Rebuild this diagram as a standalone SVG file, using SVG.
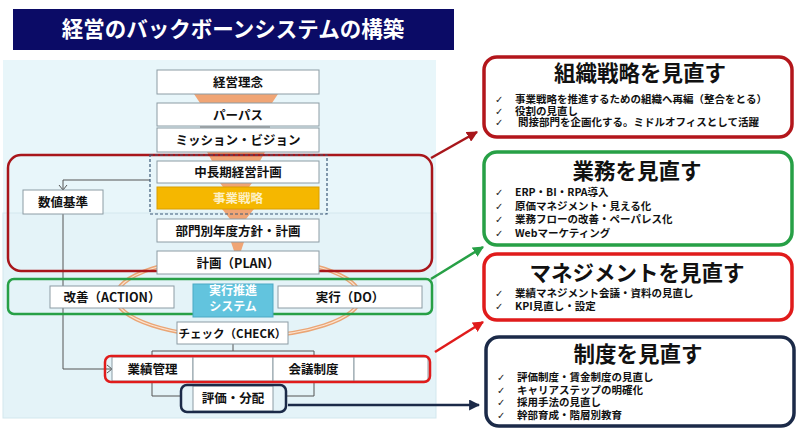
<svg xmlns="http://www.w3.org/2000/svg" width="801" height="432" viewBox="0 0 801 432">
<defs>
<style>
.t{font-family:"Noto Sans CJK JP","Noto Sans",sans-serif;font-weight:bold;}
.bx{fill:#fff;stroke:#8c9ca4;stroke-width:1;}
.lbl{font-size:12.5px;fill:#111;text-anchor:middle;}
.head{font-size:21.5px;fill:#111;text-anchor:middle;}
.item{font-size:10.5px;fill:#111;}
.ck{font-family:"DejaVu Sans",sans-serif;font-size:10px;fill:#222;}
.con{fill:#f0a575;}
.ln{fill:none;stroke:#555;stroke-width:1;}
.rb{fill:#fff;stroke-width:3.5;}
</style>
<marker id="ahDR" viewBox="0 0 10 10" refX="9" refY="5" markerWidth="11" markerHeight="11" markerUnits="userSpaceOnUse" orient="auto"><path d="M0,0 L10,5 L0,10 z" fill="#a8161b"/></marker>
<marker id="ahG" viewBox="0 0 10 10" refX="9" refY="5" markerWidth="11" markerHeight="11" markerUnits="userSpaceOnUse" orient="auto"><path d="M0,0 L10,5 L0,10 z" fill="#27a046"/></marker>
<marker id="ahR" viewBox="0 0 10 10" refX="9" refY="5" markerWidth="11" markerHeight="11" markerUnits="userSpaceOnUse" orient="auto"><path d="M0,0 L10,5 L0,10 z" fill="#e01b1b"/></marker>
<marker id="ahN" viewBox="0 0 10 10" refX="9" refY="5" markerWidth="11" markerHeight="11" markerUnits="userSpaceOnUse" orient="auto"><path d="M0,0 L10,5 L0,10 z" fill="#1b2a48"/></marker>
</defs>

<rect width="801" height="432" fill="#fff"/>

<g id="title">
<rect x="13" y="9" width="441" height="41" fill="#0b0b66"/>
<text class="t" x="233" y="37" font-size="21.5" fill="#fff" text-anchor="middle">経営のバックボーンシステムの構築</text>
</g>

<g id="panel">
<rect x="3" y="60" width="433" height="154" fill="#e8f6fa"/>
<rect x="3" y="213" width="433" height="205" fill="#e4f3f8" stroke="#d3e7ee" stroke-width="1"/>
</g>

<g id="cycle">
<ellipse cx="238" cy="297" rx="122" ry="40" fill="none" stroke="#eaa575" stroke-width="4"/>
<ellipse cx="238" cy="297" rx="122" ry="40" fill="none" stroke="#fbe4d2" stroke-width="1.2"/>
</g>

<g id="connectors">
<polygon class="con" points="194,94 278,94 272,103 200,103"/>
<rect x="200" y="126" width="70" height="2.5" fill="#a8a8a8"/>
<polygon class="con" points="207,152 265,152 260,161 212,161"/>
<polygon class="con" points="220,183 252,183 249,187 223,187"/>
<polygon class="con" points="222,209 254,209 246,219 230,219"/>
<polygon class="con" points="231,242 244,242 241,251 234,251"/>
<path class="ln" d="M150,180 H63 V190"/>
<path class="ln" d="M59,185 L63,190 L67,185"/>
<path class="ln" d="M63,214 V369 H112"/>
<path class="ln" d="M107,365 L112,369 L107,373"/>
<path class="ln" d="M233,344 V351 M152,396 V351 H314 V396 M152,396 H181 M314,396 H286"/>
<line x1="431" y1="158" x2="477" y2="132" stroke="#a8161b" stroke-width="2.5" marker-end="url(#ahDR)"/>
<line x1="431" y1="279" x2="483" y2="247" stroke="#27a046" stroke-width="2.5" marker-end="url(#ahG)"/>
<line x1="435" y1="352" x2="483" y2="322" stroke="#e01b1b" stroke-width="2.5" marker-end="url(#ahR)"/>
<line x1="288" y1="405" x2="479" y2="405" stroke="#1b2a48" stroke-width="2.5" marker-end="url(#ahN)"/>
</g>

<g id="group-strategy">
<rect x="8" y="155" width="424" height="116" rx="13" fill="none" stroke="#a8161b" stroke-width="2.5"/>
</g>
<g id="group-cycle">
<rect x="8" y="279" width="424" height="35" rx="6" fill="none" stroke="#27a046" stroke-width="2.5"/>
</g>

<g id="n-rinen"><rect class="bx" x="157" y="70" width="162" height="24"/><text class="t lbl" x="238" y="87">経営理念</text></g>
<g id="n-purpose"><rect class="bx" x="157" y="103" width="162" height="23"/><text class="t lbl" x="238" y="119.5">パーパス</text></g>
<g id="n-mission"><rect class="bx" x="157" y="128" width="162" height="24"/><text class="t lbl" x="238" y="145">ミッション・ビジョン</text></g>
<g id="n-plan-mid">
<rect x="150" y="155" width="177" height="59" fill="none" stroke="#3c5a78" stroke-width="1.2" stroke-dasharray="3,2"/>
<rect class="bx" x="157" y="161" width="162" height="22"/><text class="t lbl" x="238" y="177">中長期経営計画</text>
</g>
<g id="n-jigyo"><rect x="157" y="187" width="162" height="22" fill="#f5b700" stroke="#d99e00" stroke-width="1"/><text class="t lbl" x="238" y="203" style="fill:#fdf0c4">事業戦略</text></g>
<g id="n-bumon"><rect class="bx" x="157" y="219" width="162" height="23"/><text class="t lbl" x="238" y="235.5">部門別年度方針・計画</text></g>
<g id="n-plan"><rect class="bx" x="157" y="251" width="162" height="23"/><text class="t lbl" x="238" y="267.5">計画（PLAN）</text></g>
<g id="n-suchi"><rect class="bx" x="23" y="190" width="80" height="24"/><text class="t lbl" x="63" y="206.5">数値基準</text></g>
<g id="n-action"><rect class="bx" x="50" y="286" width="124" height="22"/><text class="t lbl" x="112" y="302">改善（ACTION）</text></g>
<g id="n-system"><rect x="193" y="284" width="80" height="33" fill="#62c4de" stroke="#4aa9c4" stroke-width="1"/><text class="t" x="233" y="295" font-size="12" text-anchor="middle" fill="#fff">実行推進</text><text class="t" x="233" y="310.5" font-size="12" text-anchor="middle" fill="#fff">システム</text></g>
<g id="n-do"><rect class="bx" x="278" y="286" width="144" height="22"/><text class="t lbl" x="350" y="302">実行（DO）</text></g>
<g id="n-check"><rect class="bx" x="177" y="322" width="111" height="22"/><text class="t" x="232.5" y="337.5" font-size="11.5" fill="#111" text-anchor="middle">チェック（CHECK）</text></g>

<g id="n-row">
<rect class="bx" x="112" y="357" width="81" height="24"/>
<rect class="bx" x="193" y="357" width="80" height="24"/>
<rect class="bx" x="273" y="357" width="81" height="24"/>
<rect class="bx" x="354" y="357" width="74" height="24"/>
<text class="t lbl" x="152.5" y="373.5">業績管理</text>
<text class="t lbl" x="313.5" y="373.5">会議制度</text>
<rect x="105" y="356" width="325" height="26" rx="6" fill="none" stroke="#e01b1b" stroke-width="2.5"/>
</g>
<g id="n-hyoka">
<rect class="bx" x="193" y="386" width="80" height="25"/>
<text class="t lbl" x="233" y="403">評価・分配</text>
<rect x="181" y="385" width="105" height="27" rx="6" fill="none" stroke="#1b2a48" stroke-width="2.5"/>
</g>

<g id="r-soshiki">
<rect class="rb" x="484" y="57" width="308" height="80" rx="13" stroke="#b3161b"/>
<text class="t head" x="640" y="81">組織戦略を見直す</text>
<text class="ck" x="495" y="103">✓</text><text class="t item" x="515" y="103">事業戦略を推進するための組織へ再編（整合をとる）</text>
<text class="ck" x="495" y="114.5">✓</text><text class="t item" x="515" y="114.5">役割の見直し</text>
<text class="ck" x="495" y="126">✓</text><text class="t item" x="518" y="126">間接部門を企画化する。ミドルオフィスとして活躍</text>
</g>

<g id="r-gyomu">
<rect class="rb" x="484" y="152" width="308" height="93" rx="13" stroke="#27a046"/>
<text class="t head" x="637" y="179">業務を見直す</text>
<text class="ck" x="495" y="196">✓</text><text class="t item" x="515" y="196">ERP・BI・RPA導入</text>
<text class="ck" x="495" y="209.5">✓</text><text class="t item" x="515" y="209.5">原価マネジメント・見える化</text>
<text class="ck" x="495" y="223">✓</text><text class="t item" x="515" y="223">業務フローの改善・ペーパレス化</text>
<text class="ck" x="495" y="236.5">✓</text><text class="t item" x="515" y="236.5">Webマーケティング</text>
</g>

<g id="r-management">
<rect class="rb" x="484" y="254" width="308" height="66" rx="13" stroke="#e01b1b"/>
<text class="t head" x="637" y="281">マネジメントを見直す</text>
<text class="ck" x="495" y="297">✓</text><text class="t item" x="515" y="297">業績マネジメント会議・資料の見直し</text>
<text class="ck" x="495" y="309.5">✓</text><text class="t item" x="515" y="309.5">KPI見直し・設定</text>
</g>

<g id="r-seido">
<rect class="rb" x="486" y="337" width="308" height="89" rx="13" stroke="#1b2a48"/>
<text class="t head" x="638" y="362">制度を見直す</text>
<text class="ck" x="497" y="381">✓</text><text class="t item" x="517" y="381">評価制度・賃金制度の見直し</text>
<text class="ck" x="497" y="393.5">✓</text><text class="t item" x="517" y="393.5">キャリアステップの明確化</text>
<text class="ck" x="497" y="406">✓</text><text class="t item" x="517" y="406">採用手法の見直し</text>
<text class="ck" x="497" y="418.5">✓</text><text class="t item" x="517" y="418.5">幹部育成・階層別教育</text>
</g>
</svg>
